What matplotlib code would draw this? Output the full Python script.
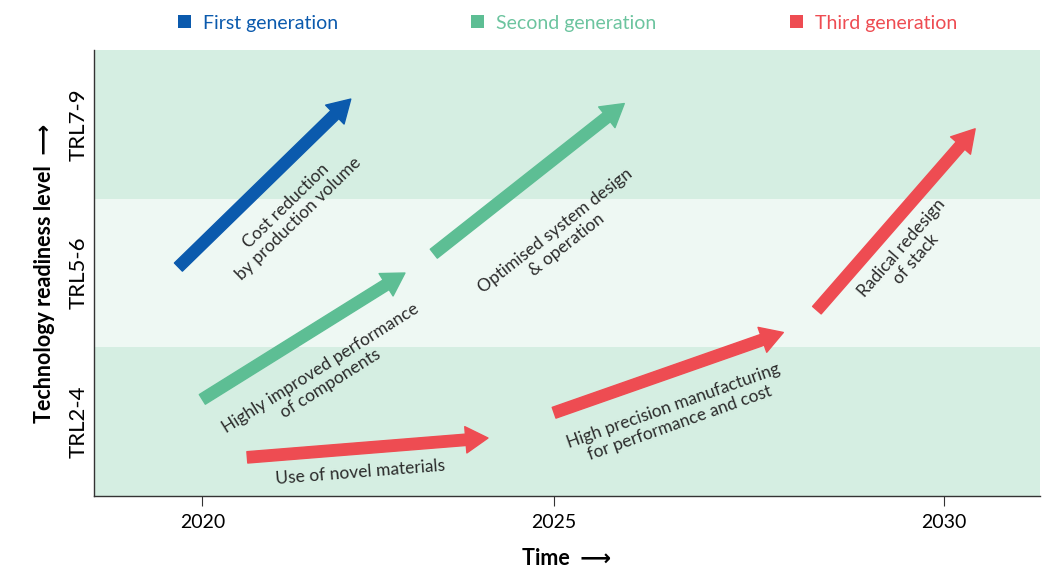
import numpy as np
import matplotlib
matplotlib.use("Agg")
import matplotlib.pyplot as plt
from matplotlib.patches import Patch

plt.rcParams["font.family"] = ["Lato", "DejaVu Sans"]

# ── data ──────────────────────────────────────────────
generations = ["First generation", "Second generation", "Third generation"]
gen_colors = ["#0b5aad", "#5dbe94", "#ee4c52"]
legend_text_colors = ["#0b5aad", "#6cc49f", "#ee4c52"]

trl_bands = ["TRL2-4", "TRL5-6", "TRL7-9"]
band_colors = ["#d5eee2", "#eef8f3", "#d5eee2"]
year_ticks = [2020, 2025, 2030]

# arrows: (generation index, start year, start TRL, end year, end TRL)
arrow_gen = [0, 1, 1, 2, 2, 2]
arrow_x0 = [2019.66, 2020.00, 2023.29, 2020.64, 2025.00, 2028.37]
arrow_y0 = [1.54, 0.65, 1.63, 0.26, 0.56, 1.25]
arrow_x1 = [2022.11, 2022.88, 2025.90, 2024.06, 2027.94, 2030.40]
arrow_y1 = [2.67, 1.50, 2.64, 0.39, 1.10, 2.47]

labels = ["Cost reduction\nby production volume",
          "Highly improved performance\nof components",
          "Optimised system design\n& operation",
          "Use of novel materials",
          "High precision manufacturing\nfor performance and cost",
          "Radical redesign\nof stack"]
label_x = [2021.28, 2021.75, 2025.09, 2022.25, 2026.57, 2029.55]
label_y = [1.91, 0.81, 1.735, 0.16, 0.55, 1.63]
label_rot = [44.3, 32.2, 38.1, 4.5, 19.5, 49.0]


# schematic time axis: 2025-2030 is drawn a bit wider than 2020-2025
def fwd(x):
    x = np.asarray(x, dtype=float)
    return np.where(x <= 2025, (x - 2025) * 351 / 5, (x - 2025) * 389 / 5)


def inv(p):
    p = np.asarray(p, dtype=float)
    return np.where(p <= 0, p * 5 / 351 + 2025, p * 5 / 389 + 2025)


fig = plt.figure(figsize=(10.43, 5.69), dpi=100)
ax = fig.add_axes([0.0901, 0.1283, 0.9069, 0.7838])
ax.set_xscale("function", functions=(fwd, inv))
ax.set_xlim(2018.46, 2031.23)
ax.set_ylim(0, 3)

for i, c in enumerate(band_colors):
    ax.axhspan(i, i + 1, color=c, lw=0, zorder=0)

for g, x0, y0, x1, y1 in zip(arrow_gen, arrow_x0, arrow_y0, arrow_x1, arrow_y1):
    ax.annotate("", xy=(x1, y1), xytext=(x0, y0),
                arrowprops=dict(arrowstyle="simple,head_length=0.8,head_width=0.95,tail_width=0.41",
                                color=gen_colors[g], shrinkA=0, shrinkB=0,
                                mutation_scale=20), zorder=3)

for t, x, y, r in zip(labels, label_x, label_y, label_rot):
    ax.text(x, y, t, rotation=r, rotation_mode="anchor", ha="center", va="center",
            multialignment="center", fontsize=12.5, color="#2b2b2b", zorder=4,
            linespacing=1.15)

ax.set_xticks(year_ticks)
ax.set_xticklabels([str(y) for y in year_ticks], fontsize=14)
ax.tick_params(axis="x", length=7, width=0.8, color="#333333", pad=6)
ax.xaxis.set_minor_locator(matplotlib.ticker.NullLocator())
ax.set_yticks([0.5, 1.5, 2.5])
ax.set_yticklabels(trl_bands, rotation=90, va="center", fontsize=16)
ax.tick_params(axis="y", length=0, pad=4)

for s in ["top", "right"]:
    ax.spines[s].set_visible(False)
for s in ["left", "bottom"]:
    ax.spines[s].set_color("#333333")
    ax.spines[s].set_linewidth(1.0)

ax.set_xlabel("Time  \u27f6", fontsize=15.5, fontweight="bold",
              family=["Lato", "DejaVu Sans"], labelpad=12)
ax.set_ylabel("Technology readiness level  \u27f6", fontsize=15.5, fontweight="bold",
              family=["Lato", "DejaVu Sans"], labelpad=10)

handles = [Patch(facecolor=c, edgecolor="none") for c in gen_colors]
leg = fig.legend(handles, generations, loc="upper center", bbox_to_anchor=(0.544, 1.005),
                 ncol=3, frameon=False, fontsize=14, handlelength=0.67, handleheight=0.67,
                 handletextpad=0.62, columnspacing=6.85)
for txt, c in zip(leg.get_texts(), legend_text_colors):
    txt.set_color(c)

fig.savefig("out.png", dpi=100)
